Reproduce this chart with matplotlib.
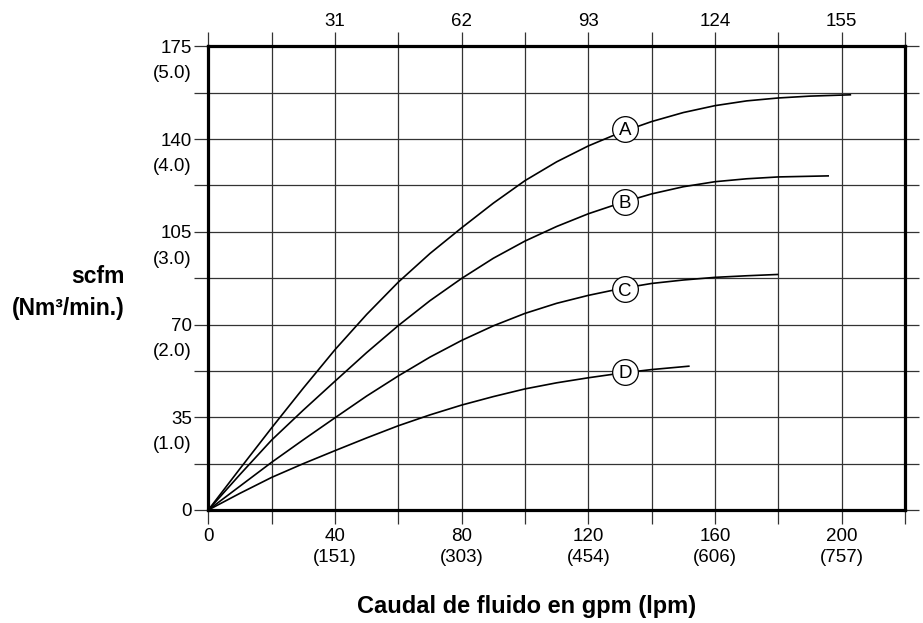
import matplotlib
matplotlib.use("Agg")
import matplotlib.pyplot as plt
from matplotlib.ticker import MultipleLocator, FixedLocator

plt.rcParams['font.family'] = ['Liberation Sans', 'DejaVu Sans']

# ---- data (gpm vs scfm) ----
a_x = [0, 10, 20, 30, 40, 50, 60, 70, 80, 90, 100, 110, 120, 130, 140, 150, 160, 170, 180, 190, 203]
a_y = [0, 15.6, 31, 46, 60.5, 73.8, 86, 96.8, 106.5, 115.8, 124.3, 131.4, 137.4, 142.4, 146.6, 150, 152.6, 154.4, 155.5, 156.2, 156.7]

b_x = [0, 10, 20, 30, 40, 50, 60, 70, 80, 90, 100, 110, 120, 130, 140, 150, 160, 170, 180, 196]
b_y = [0, 13.4, 26.4, 37.7, 48.6, 59.4, 69.6, 79, 87.4, 95, 101.5, 107, 111.8, 115.8, 119.3, 122, 123.9, 125, 125.7, 126.1]

c_x = [0, 10, 20, 30, 40, 50, 60, 70, 80, 90, 100, 110, 120, 130, 140, 150, 160, 170, 180]
c_y = [0, 9, 18, 26.5, 34.8, 43, 50.6, 57.7, 64, 69.5, 74.2, 78, 81, 83.5, 85.5, 86.8, 87.8, 88.4, 88.9]

d_x = [0, 10, 20, 30, 40, 50, 60, 70, 80, 90, 100, 110, 120, 130, 140, 152]
d_y = [0, 6.3, 12.3, 17.5, 22.4, 27.2, 31.8, 35.9, 39.6, 42.8, 45.7, 48, 49.9, 51.6, 53, 54.3]

curve_names = ['A', 'B', 'C', 'D']
label_x = [131.6, 131.6, 131.6, 131.6]
label_y = [143.8, 116.4, 83.4, 52.1]

x_ticks = [0, 40, 80, 120, 160, 200]
x_tick_labels = ['0', '40\n(151)', '80\n(303)', '120\n(454)', '160\n(606)', '200\n(757)']
top_ticks = [40, 80, 120, 160, 200]
top_tick_labels = ['31', '62', '93', '124', '155']
y_ticks = [0, 35, 70, 105, 140, 175]
y_tick_labels = ['0', '35', '70', '105', '140', '175']
y_metric = ['', '(1.0)', '(2.0)', '(3.0)', '(4.0)', '(5.0)']

fig = plt.figure(figsize=(9.23, 6.23), dpi=100)
ax = fig.add_axes([208.3 / 923, 1 - 510 / 623, (905 - 208.3) / 923, (510 - 46.3) / 623])

ax.set_xlim(0, 220)
ax.set_ylim(0, 175)

ax.xaxis.set_major_locator(FixedLocator(x_ticks))
ax.xaxis.set_minor_locator(MultipleLocator(20))
ax.yaxis.set_major_locator(FixedLocator(y_ticks))
ax.yaxis.set_minor_locator(MultipleLocator(17.5))
ax.set_xticklabels(x_tick_labels, fontsize=13.5, linespacing=1.3, va='top')
ax.set_yticklabels(y_tick_labels, fontsize=13.5)

gc = '#333333'
ax.grid(True, which='both', color=gc, lw=0.9)
ax.tick_params(which='both', direction='out', length=10, width=0.9, color=gc,
               top=True, right=True, labeltop=False, labelright=False)
ax.tick_params(axis='x', pad=3)
ax.tick_params(axis='y', pad=1.7)
ax.set_axisbelow(True)
for s in ax.spines.values():
    s.set_linewidth(2.3)
    s.set_color('black')
    s.set_zorder(4)

for xs, ys in [(a_x, a_y), (b_x, b_y), (c_x, c_y), (d_x, d_y)]:
    ax.plot(xs, ys, color='black', lw=1.2, zorder=3, solid_capstyle='butt', solid_joinstyle='round')

for n, lx, ly in zip(curve_names, label_x, label_y):
    ax.plot([lx], [ly], 'o', ms=18.5, mfc='white', mec='black', mew=0.9, zorder=5)
    ax.text(lx, ly, n, ha='center', va='center_baseline', fontsize=13.5, zorder=6)

for v, m in zip(y_ticks, y_metric):
    if m:
        ax.annotate(m, xy=(0, v), xycoords='data', xytext=(-12, -18.3), textcoords='offset points',
                    ha='right', va='center_baseline', fontsize=13.5, annotation_clip=False)

sec = ax.secondary_xaxis('top')
sec.set_xticks(top_ticks)
sec.set_xticklabels(top_tick_labels, fontsize=13.5)
sec.tick_params(length=0, pad=12)
sec.spines['top'].set_visible(False)

fig.text(125 / 923, 1 - 276.7 / 623, 'scfm', ha='right', va='center', fontsize=16.5, fontweight='bold')
fig.text(125 / 923, 1 - 309 / 623, '(Nm³/min.)', ha='right', va='center', fontsize=16.5, fontweight='bold')
fig.text(527 / 923, 1 - 606.7 / 623, 'Caudal de fluido en gpm (lpm)', ha='center', va='center',
         fontsize=17, fontweight='bold')

fig.savefig('out.png', dpi=100)
